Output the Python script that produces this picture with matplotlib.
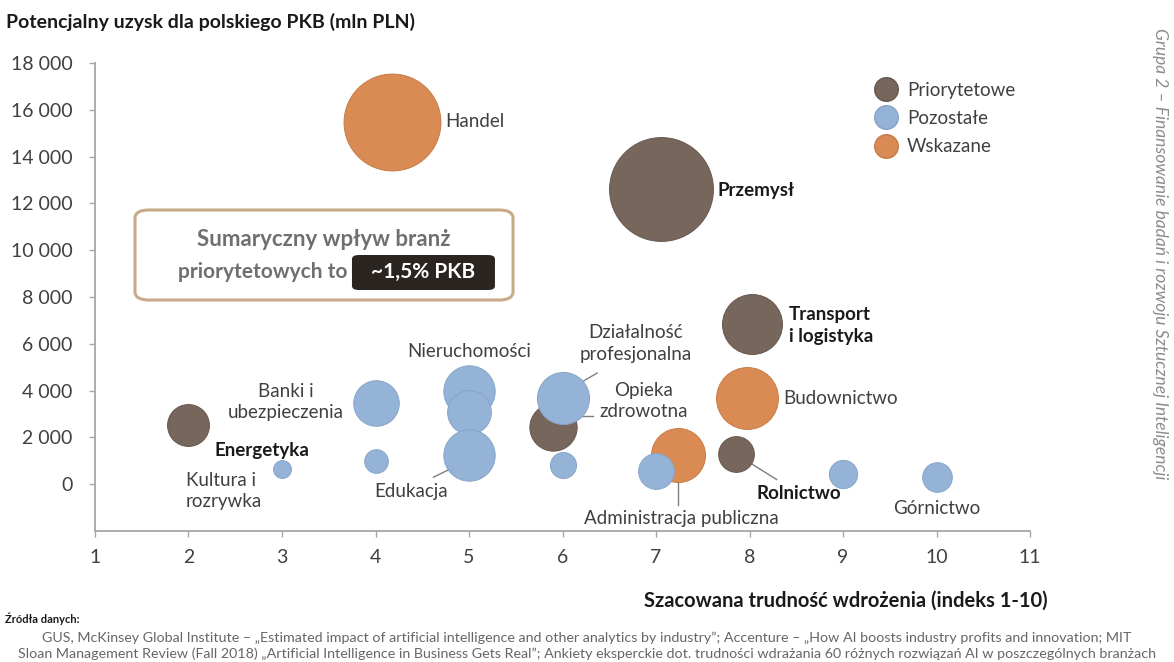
import matplotlib
matplotlib.use("Agg")
import matplotlib.pyplot as plt
from matplotlib.patches import FancyBboxPatch
from matplotlib.lines import Line2D
from matplotlib.ticker import FuncFormatter

plt.rcParams['font.family'] = ['Lato', 'DejaVu Sans']

# dane: branze, trudnosc wdrozenia (x), uzysk dla PKB w mln PLN (y), wielkosc babla
branze = ["Handel", "Przemysł", "Transport i logistyka", "Budownictwo", "Energetyka",
          "Kultura i rozrywka", "Banki i ubezpieczenia", "Informacja", "Nieruchomości",
          "Usługi", "Edukacja", "Działalność profesjonalna", "Opieka zdrowotna",
          "Hotele", "Administracja publiczna", "Pozostałe usługi", "Rolnictwo",
          "Woda", "Górnictwo"]
grupa = ["Wskazane", "Priorytetowe", "Priorytetowe", "Wskazane", "Priorytetowe",
         "Pozostałe", "Pozostałe", "Pozostałe", "Pozostałe",
         "Pozostałe", "Pozostałe", "Pozostałe", "Priorytetowe",
         "Pozostałe", "Wskazane", "Pozostałe", "Priorytetowe",
         "Pozostałe", "Pozostałe"]
trudnosc = [4.18, 7.05, 8.03, 7.97, 2.0,
            3.0, 4.0, 4.0, 5.0,
            5.0, 5.0, 6.0, 5.9,
            6.0, 7.23, 7.0, 7.85,
            9.0, 10.0]
uzysk = [15500, 12600, 6850, 3700, 2550,
         650, 3450, 1000, 4000,
         3100, 1250, 3700, 2450,
         830, 1250, 550, 1300,
         450, 300]
wielkosc = [235, 270, 90, 96, 44,
            8, 52, 14, 66,
            48, 66, 68, 56,
            17, 73, 32, 32,
            20, 22]

kolory = {"Priorytetowe": "#76665B", "Pozostałe": "#95B3D7", "Wskazane": "#D98B53"}
obwodki = {"Priorytetowe": "#67584F", "Pozostałe": "#87A4C8", "Wskazane": "#C67C48"}
kolejnosc = {"Priorytetowe": 2, "Wskazane": 3, "Pozostałe": 4}

fig = plt.figure(figsize=(11.74, 6.62), dpi=100)
ax = fig.add_axes([0.0809, 0.1979, 0.7965, 0.7069])

for x, y, w, g in zip(trudnosc, uzysk, wielkosc, grupa):
    ax.scatter(x, y, s=w * 20.7, color=kolory[g], edgecolor=obwodki[g],
               linewidth=0.7, zorder=kolejnosc[g])

ax.set_xlim(1, 11)
ax.set_ylim(-2000, 18000)
ax.set_xticks(range(1, 12))
ax.set_yticks(range(0, 18001, 2000))
ax.yaxis.set_major_formatter(FuncFormatter(lambda v, p: f"{int(v):,}".replace(",", " ")))
for s in ["top", "right"]:
    ax.spines[s].set_visible(False)
for s in ["left", "bottom"]:
    ax.spines[s].set_color("#A6A6A6")
    ax.spines[s].set_linewidth(1.3)
ax.tick_params(axis="both", colors="#A6A6A6", labelcolor="#404040", labelsize=14,
               length=4, width=1)
ax.tick_params(axis="x", pad=9)
ax.tick_params(axis="y", pad=12)

# etykiety branz
opis = dict(fontsize=13.5, color="#404040")
mocny = dict(fontsize=13.5, color="#1A1A1A", fontweight="bold")
ax.text(4.75, 15500, "Handel", ha="left", va="center", **opis)
ax.text(7.66, 12550, "Przemysł", ha="left", va="center", **mocny)
ax.text(8.42, 6780, "Transport\ni logistyka", ha="left", va="center", linespacing=1.3, **mocny)
ax.text(8.36, 3670, "Budownictwo", ha="left", va="center", **opis)
ax.text(6.78, 6010, "Działalność\nprofesjonalna", ha="center", va="center", linespacing=1.3, **opis)
ax.text(6.87, 3540, "Opieka\nzdrowotna", ha="center", va="center", linespacing=1.3, **opis)
ax.text(5.0, 5650, "Nieruchomości", ha="center", va="center", **opis)
ax.text(3.04, 3500, "Banki i\nubezpieczenia", ha="center", va="center", linespacing=1.3, **opis)
ax.text(2.79, 1450, "Energetyka", ha="center", va="center", **mocny)
ax.text(1.97, -300, "Kultura i\nrozrywka", ha="left", va="center", linespacing=1.3, **opis)
ax.text(4.38, -300, "Edukacja", ha="center", va="center", **opis)
ax.text(7.27, -1450, "Administracja publiczna", ha="center", va="center", **opis)
ax.text(8.53, -380, "Rolnictwo", ha="center", va="center", **mocny)
ax.text(10.0, -1020, "Górnictwo", ha="center", va="center", **opis)

# linie odniesienia
lin = dict(color="#7F7F7F", linewidth=1, zorder=1)
ax.plot([6.22, 6.37], [4400, 4750], **lin)
ax.plot([6.2, 6.33], [2900, 2900], **lin)
ax.plot([4.62, 4.8], [300, 650], **lin)
ax.plot([7.24, 7.24], [80, -900], **lin)
ax.plot([8.03, 8.29], [850, 200], **lin)

# legenda
uchwyty = [Line2D([], [], marker="o", linestyle="", markersize=17, markerfacecolor=kolory[k],
                  markeredgecolor=obwodki[k]) for k in ["Priorytetowe", "Pozostałe", "Wskazane"]]
fig.legend(uchwyty, ["Priorytetowe", "Pozostałe", "Wskazane"], loc="upper left",
           bbox_to_anchor=(0.724, 0.902), frameon=False, fontsize=13.5, labelspacing=0.6,
           handletextpad=0.15, labelcolor="#404040")

# ramka z podsumowaniem
fig.patches.append(FancyBboxPatch((0.115, 0.5468), 0.322, 0.136, boxstyle="round,pad=0,rounding_size=0.012",
                                  transform=fig.transFigure, facecolor="white", edgecolor="#C7AA88",
                                  linewidth=2.2))
fig.patches.append(FancyBboxPatch((0.2998, 0.5619), 0.1218, 0.0529, boxstyle="round,pad=0,rounding_size=0.006",
                                  transform=fig.transFigure, facecolor="#2B2521", edgecolor="none"))
fig.text(0.276, 0.6375, "Sumaryczny wpływ branż", ha="center", va="center", fontsize=16,
         fontweight="bold", color="#6F6F6F")
fig.text(0.2956, 0.589, "priorytetowych to", ha="right", va="center", fontsize=15,
         fontweight="bold", color="#6F6F6F")
fig.text(0.3607, 0.589, "~1,5% PKB", ha="center", va="center", fontsize=15,
         fontweight="bold", color="white")

# tytuly osi i opisy
fig.text(0.005, 0.967, "Potencjalny uzysk dla polskiego PKB (mln PLN)", ha="left", va="center",
         fontsize=14, fontweight="bold", color="#1A1A1A")
fig.text(0.892, 0.092, "Szacowana trudność wdrożenia (indeks 1-10)", ha="right", va="center",
         fontsize=14.5, fontweight="bold", color="#1A1A1A")
fig.text(0.004, 0.065, "Źródła danych:", ha="left", va="center", fontsize=8, fontweight="bold",
         color="#1A1A1A")
fig.text(0.5, 0.037, "GUS, McKinsey Global Institute – „Estimated impact of artificial intelligence and other "
         "analytics by industry”; Accenture – „How AI boosts industry profits and innovation; MIT",
         ha="center", va="center", fontsize=10.3, color="#666666")
fig.text(0.5, 0.013, "Sloan Management Review (Fall 2018) „Artificial Intelligence in Business Gets Real”; "
         "Ankiety eksperckie dot. trudności wdrażania 60 różnych rozwiązań AI w poszczególnych branżach",
         ha="center", va="center", fontsize=10.3, color="#666666")
fig.text(0.988, 0.958, "Grupa 2 – Finansowanie badań i rozwoju Sztucznej Inteligencji", rotation=-90,
         ha="center", va="top", fontsize=12.5, style="italic", color="#8C8C8C")

fig.savefig("out.png", dpi=100)
